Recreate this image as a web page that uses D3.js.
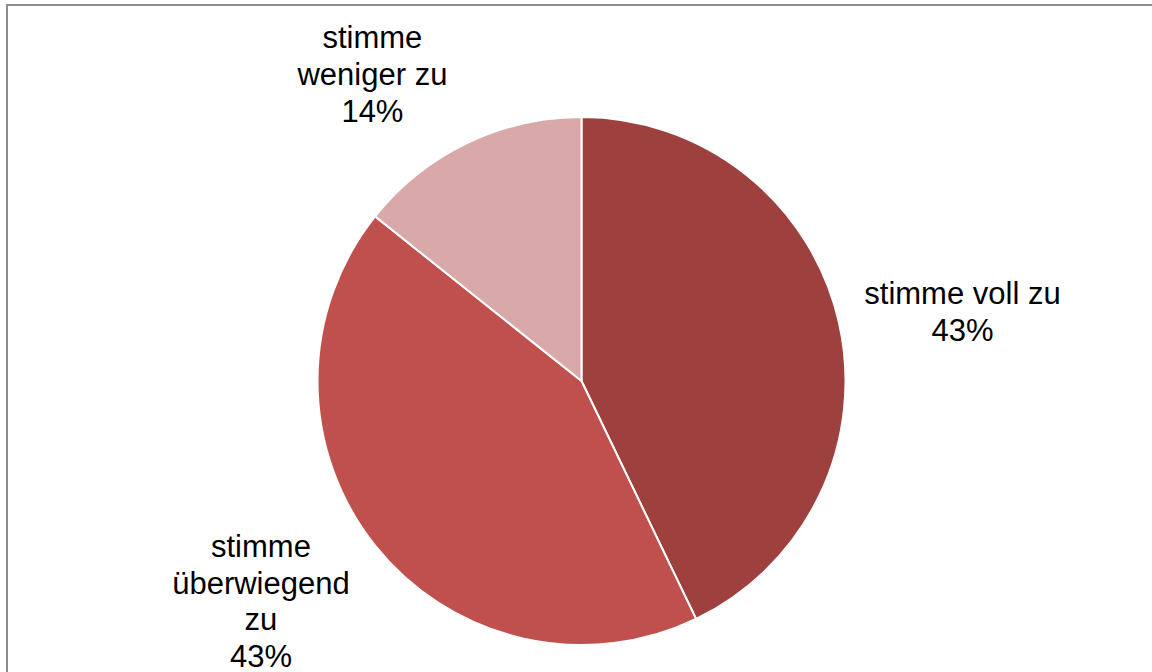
<!DOCTYPE html>
<html>
<head>
<meta charset="utf-8">
<script src="https://cdn.jsdelivr.net/npm/d3@7"></script>
<style>
  html, body { margin: 0; padding: 0; background: #fff; overflow: hidden; }
  text { font-family: "Liberation Sans", Arial, sans-serif; fill: #000; }
</style>
</head>
<body>
<svg id="chart" width="1152" height="672"></svg>
<script>
// data
const categories = ["stimme voll zu", "stimme überwiegend zu", "stimme weniger zu"];
const counts = [3, 3, 1];
const percentLabels = ["43%", "43%", "14%"];
const labelLines = [
  ["stimme voll zu", "43%"],
  ["stimme", "überwiegend", "zu", "43%"],
  ["stimme", "weniger zu", "14%"]
];
const colors = ["#9e403e", "#c0504d", "#d9a9a9"];

var svg = d3.select("#chart"),
  width = +svg.attr("width"),
  height = +svg.attr("height");

// chart frame
svg.append("rect")
  .attr("x", 7).attr("y", 5)
  .attr("width", width + 20).attr("height", height + 20)
  .attr("fill", "none")
  .attr("stroke", "#8c8c8c")
  .attr("stroke-width", 2);

const cx = 581.5, cy = 381, radius = 264;

const pie = d3.pie().sort(null).value((d) => d);
const arcs = pie(counts);
const arc = d3.arc().innerRadius(0).outerRadius(radius);

var g = svg.append("g").attr("transform", `translate(${cx},${cy})`);

g.selectAll("path")
  .data(arcs)
  .enter()
  .append("path")
  .attr("d", arc)
  .attr("fill", (d, i) => colors[i])
  .attr("stroke", "#fff")
  .attr("stroke-width", 2);

// label placement (Excel "best fit" style): offsets from an outer label arc
const labelArc = d3.arc().innerRadius(radius + 40).outerRadius(radius + 40);
const labelOffsets = [[84.6, -9.4], [-82.9, -13.6], [-77.2, -58.7]];
const lineHeight = 36.7;

arcs.forEach((d, i) => {
  const c = labelArc.centroid(d);
  const x = c[0] + labelOffsets[i][0];
  const y0 = c[1] + labelOffsets[i][1];
  const t = g.append("text")
    .attr("text-anchor", "middle")
    .style("font-size", "31px");
  labelLines[i].forEach((line, j) => {
    t.append("tspan")
      .attr("x", x)
      .attr("y", y0 + j * lineHeight)
      .text(line);
  });
});
</script>
</body>
</html>
